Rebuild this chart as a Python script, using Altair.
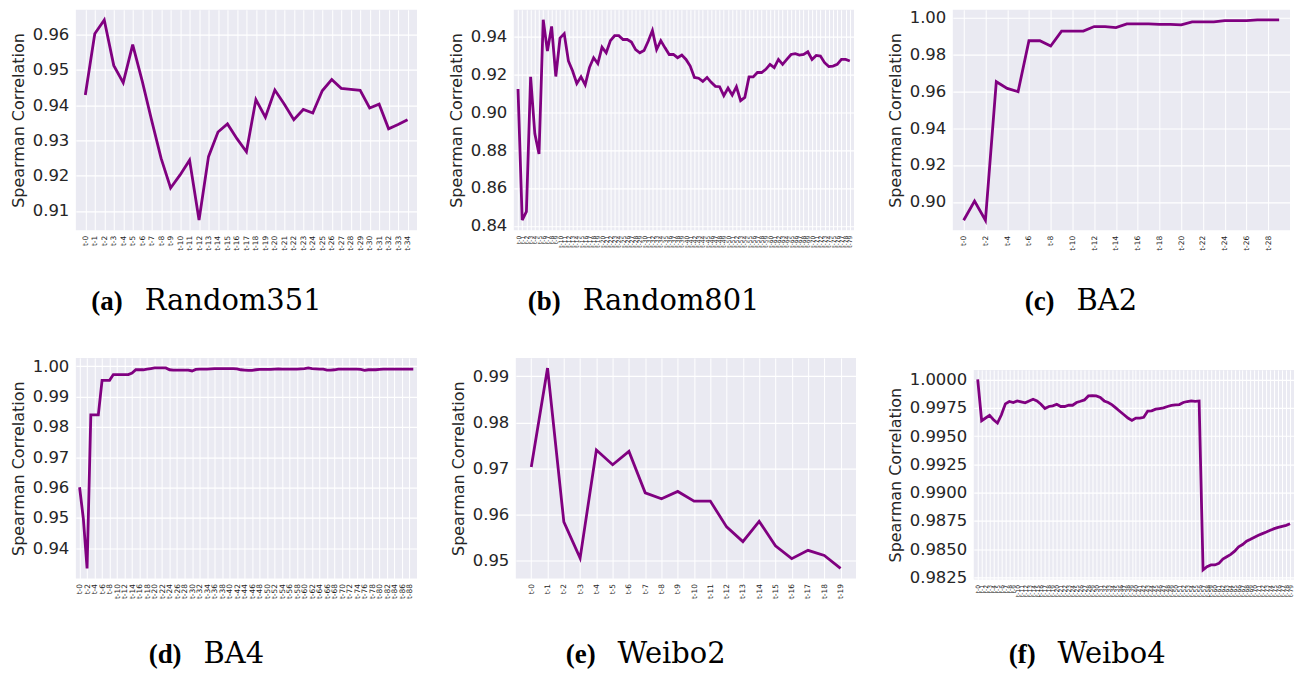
import altair as alt
import pandas as pd

PURPLE = "#800080"
BG = "#EAEAF2"
TXT = "#262626"

# ---- data ----
random351 = [0.9429, 0.9603, 0.9642, 0.9513, 0.9464, 0.9572, 0.9469, 0.9357, 0.9249, 0.9165,
             0.9202, 0.9244, 0.9074, 0.9254, 0.9324, 0.9347, 0.9305, 0.9268, 0.9416, 0.9366,
             0.9443, 0.9403, 0.9359, 0.9388, 0.9378, 0.9441, 0.9473, 0.9448, 0.9445, 0.9442,
             0.9392, 0.9403, 0.9333, 0.9345, 0.9359]

random801 = [0.9122, 0.8431, 0.8475, 0.9186, 0.8887, 0.8779, 0.9487, 0.9322, 0.9452, 0.9188,
             0.9391, 0.9414, 0.9270, 0.9217, 0.9151, 0.9186, 0.9144, 0.9235, 0.9287, 0.9256,
             0.9343, 0.9313, 0.9377, 0.9403, 0.9403, 0.9383, 0.9383, 0.9370, 0.9330, 0.9313,
             0.9325, 0.9374, 0.9430, 0.9330, 0.9377, 0.9339, 0.9304, 0.9304, 0.9287, 0.9301,
             0.9278, 0.9243, 0.9183, 0.9179, 0.9162, 0.9183, 0.9157, 0.9136, 0.9134, 0.9087,
             0.9127, 0.9090, 0.9134, 0.9061, 0.9078, 0.9186, 0.9186, 0.9209, 0.9209, 0.9226,
             0.9252, 0.9235, 0.9278, 0.9252, 0.9278, 0.9304, 0.9308, 0.9301, 0.9304, 0.9318,
             0.9278, 0.9299, 0.9296, 0.9261, 0.9240, 0.9243, 0.9252, 0.9278, 0.9278, 0.9270]

ba2 = [0.8900, 0.9004, 0.8900, 0.9651, 0.9615, 0.9597, 0.9873, 0.9873, 0.9844, 0.9925,
       0.9925, 0.9925, 0.9950, 0.9950, 0.9944, 0.9964, 0.9964, 0.9964, 0.9962, 0.9962,
       0.9959, 0.9975, 0.9975, 0.9975, 0.9982, 0.9982, 0.9982, 0.9986, 0.9986, 0.9986]

ba4 = [0.9601, 0.9498, 0.9333, 0.9840, 0.9840, 0.9840, 0.9954, 0.9954, 0.9954, 0.9973,
       0.9973, 0.9973, 0.9973, 0.9973, 0.9978, 0.9989, 0.9989, 0.9989, 0.9991, 0.9993,
       0.9995, 0.9995, 0.9995, 0.9995, 0.9989, 0.9988, 0.9988, 0.9988, 0.9988, 0.9988,
       0.9985, 0.9990, 0.9991, 0.9991, 0.9991, 0.9992, 0.9993, 0.9993, 0.9993, 0.9993,
       0.9993, 0.9993, 0.9992, 0.9989, 0.9988, 0.9987, 0.9987, 0.9989, 0.9990, 0.9990,
       0.9990, 0.9990, 0.9991, 0.9992, 0.9991, 0.9991, 0.9991, 0.9991, 0.9991, 0.9992,
       0.9993, 0.9995, 0.9993, 0.9992, 0.9991, 0.9991, 0.9988, 0.9988, 0.9989, 0.9991,
       0.9991, 0.9991, 0.9991, 0.9991, 0.9991, 0.9990, 0.9987, 0.9989, 0.9989, 0.9989,
       0.9990, 0.9991, 0.9991, 0.9991, 0.9991, 0.9991, 0.9991, 0.9991, 0.9991, 0.9991]

weibo2 = [0.9703, 0.9918, 0.9584, 0.9505, 0.9740, 0.9708, 0.9737, 0.9647, 0.9634, 0.9650,
          0.9629, 0.9629, 0.9573, 0.9541, 0.9585, 0.9532, 0.9504, 0.9522, 0.9511, 0.9483]

weibo4 = [1.00000, 0.99635, 0.99659, 0.99682, 0.99644, 0.99615, 0.99688, 0.99784, 0.99805, 0.99796,
          0.99810, 0.99802, 0.99793, 0.99810, 0.99825, 0.99810, 0.99781, 0.99743, 0.99761, 0.99767,
          0.99781, 0.99761, 0.99761, 0.99772, 0.99772, 0.99796, 0.99807, 0.99819, 0.99854, 0.99857,
          0.99854, 0.99840, 0.99810, 0.99796, 0.99775, 0.99746, 0.99717, 0.99688, 0.99659, 0.99638,
          0.99659, 0.99659, 0.99665, 0.99720, 0.99723, 0.99737, 0.99743, 0.99749, 0.99761, 0.99770,
          0.99775, 0.99778, 0.99796, 0.99805, 0.99810, 0.99807, 0.99810, 0.98317, 0.98346, 0.98361,
          0.98361, 0.98375, 0.98413, 0.98434, 0.98454, 0.98483, 0.98521, 0.98541, 0.98571, 0.98588,
          0.98606, 0.98623, 0.98638, 0.98652, 0.98667, 0.98682, 0.98693, 0.98702, 0.98711, 0.98725]

captions_bold = ["(a)", "(b)", "(c)", "(d)", "(e)", "(f)"]
captions_name = ["Random351", "Random801", "BA2", "BA4", "Weibo2", "Weibo4"]

ticks_a = [0.91, 0.92, 0.93, 0.94, 0.95, 0.96]
ticks_b = [0.84, 0.86, 0.88, 0.90, 0.92, 0.94]
ticks_c = [0.90, 0.92, 0.94, 0.96, 0.98, 1.00]
ticks_d = [0.94, 0.95, 0.96, 0.97, 0.98, 0.99, 1.00]
ticks_e = [0.95, 0.96, 0.97, 0.98, 0.99]
ticks_f = [0.9825, 0.9850, 0.9875, 0.9900, 0.9925, 0.9950, 0.9975, 1.0000]


def panel(vals, ydom, yticks, yfmt, w, h, xfont, every, bold, name,
          bold_x, name_x, cap_y):
    n = len(vals)
    lab = [f"t-{i}" for i in range(n)]
    df = pd.DataFrame({"t": lab, "v": vals})
    xaxis_kw = dict(title=None, labelAngle=270, grid=True, gridColor="white", gridWidth=1,
                    ticks=False, domain=False, labelFontSize=xfont, labelPadding=5,
                    labelOverlap=False, labelColor=TXT, labelFont="DejaVu Sans")
    if every > 1:
        xaxis_kw["values"] = lab[::every]
    line = alt.Chart(df).mark_line(color=PURPLE, strokeWidth=2.8).encode(
        x=alt.X("t:O", sort=lab,
                scale=alt.Scale(type="point", padding=0.05 * (n - 1)),
                axis=alt.Axis(**xaxis_kw)),
        y=alt.Y("v:Q", scale=alt.Scale(domain=ydom, nice=False, zero=False),
                axis=alt.Axis(title="Spearman Correlation", values=yticks, format=yfmt,
                              grid=True, gridColor="white", gridWidth=1.2, ticks=False,
                              domain=False, labelFontSize=16.5, labelPadding=7,
                              labelColor=TXT, labelFont="DejaVu Sans",
                              titleFont="DejaVu Sans", titleFontSize=16,
                              titleFontWeight="normal", titleColor=TXT, titlePadding=6)),
    )
    cap1 = alt.Chart(pd.DataFrame({"s": [bold]})).mark_text(
        font="Liberation Serif", fontWeight="bold", fontSize=27, align="right",
        baseline="alphabetic", color="black").encode(
        text="s:N", x=alt.value(bold_x), y=alt.value(cap_y))
    cap2 = alt.Chart(pd.DataFrame({"s": [name]})).mark_text(
        font="DejaVu Serif", fontSize=29, align="left",
        baseline="alphabetic", color="black").encode(
        text="s:N", x=alt.value(name_x), y=alt.value(cap_y))
    return alt.layer(line, cap1, cap2).properties(width=w, height=h)


pa = panel(random351, [0.9045, 0.9671], ticks_a, ".2f", 342, 221, 7.5, 1,
           captions_bold[0], captions_name[0], 47, 69, 301)
pb = panel(random801, [0.8377, 0.9540], ticks_b, ".2f", 341, 221, 6, 1,
           captions_bold[1], captions_name[1], 47, 69, 301)
pc = panel(ba2, [0.8846, 1.0041], ticks_c, ".2f", 338, 221, 7.5, 2,
           captions_bold[2], captions_name[2], 102, 124, 301)
pd_ = panel(ba4, [0.9300, 1.0028], ticks_d, ".2f", 342, 221, 7.5, 2,
            captions_bold[3], captions_name[3], 106, 128, 306)
pe = panel(weibo2, [0.9461, 0.9940], ticks_e, ".2f", 341, 221, 7.5, 1,
           captions_bold[4], captions_name[4], 80, 102, 306)
pf = panel(weibo4, [0.98233, 1.00084], ticks_f, ".4f", 321, 210, 6, 1,
           captions_bold[5], captions_name[5], 62, 84, 294)

# empty spacer so that panel (f) starts a little lower than (d) and (e)
spacer = alt.Chart(pd.DataFrame({"s": [0]})).mark_point(opacity=0).encode(
    x=alt.value(0), y=alt.value(0)
).properties(width=1, height=1, view=alt.ViewBackground(fill=None, stroke=None))
pf_col = alt.vconcat(spacer, pf, spacing=9)

row1 = alt.hconcat(pa, pb, pc, spacing=31)
row2 = alt.hconcat(pd_, pe, pf_col, spacing=31)

chart = alt.vconcat(row1, row2, spacing=39).properties(
    padding={"left": 10, "top": 8, "right": 0, "bottom": 0},
    background="white",
).configure_view(stroke=None, fill=BG)

chart.save("out.html", embed_options={"renderer": "svg", "actions": False})
